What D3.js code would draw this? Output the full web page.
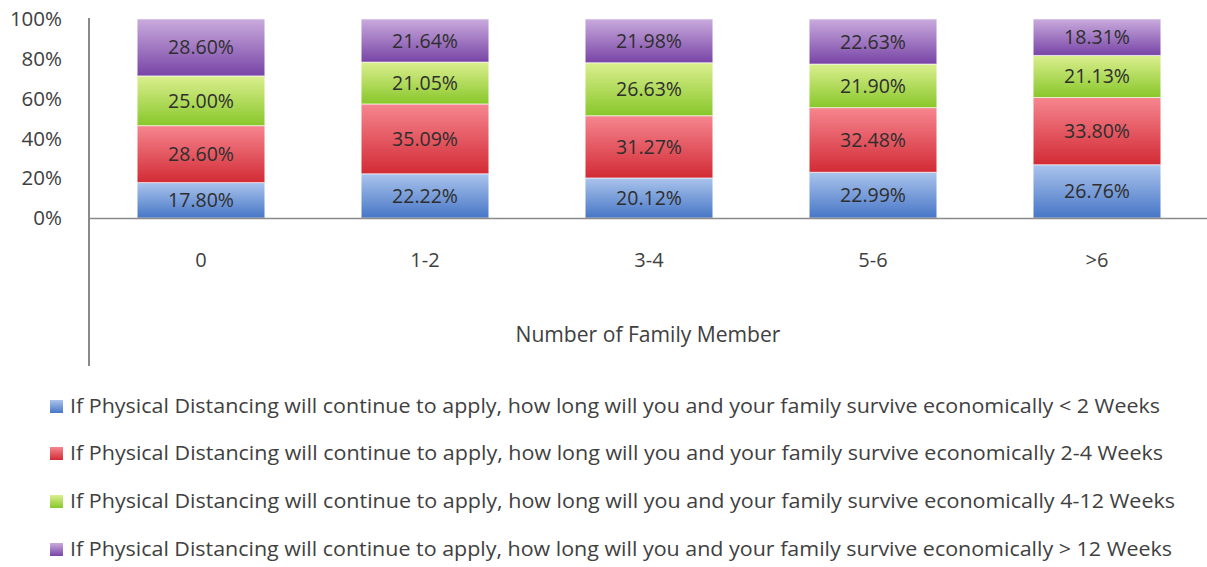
<!DOCTYPE html>
<html>
<head>
<meta charset="utf-8">
<script src="https://cdn.jsdelivr.net/npm/d3@7"></script>
<style>
  html, body { margin: 0; padding: 0; background: #fff; }
  #chart { width: 1207px; height: 567px; }
  text { font-family: "Open Sans", "DejaVu Sans", sans-serif; }
</style>
</head>
<body>
<div id="chart"></div>
<script>
const categories = ["0", "1-2", "3-4", "5-6", ">6"];
const seriesNames = [
  "If Physical Distancing will continue to apply, how long will you and your family survive economically < 2 Weeks",
  "If Physical Distancing will continue to apply, how long will you and your family survive economically 2-4 Weeks",
  "If Physical Distancing will continue to apply, how long will you and your family survive economically 4-12 Weeks",
  "If Physical Distancing will continue to apply, how long will you and your family survive economically > 12 Weeks"
];
const lessThan2Weeks = [17.80, 22.22, 20.12, 22.99, 26.76];
const twoTo4Weeks = [28.60, 35.09, 31.27, 32.48, 33.80];
const fourTo12Weeks = [25.00, 21.05, 26.63, 21.90, 21.13];
const moreThan12Weeks = [28.60, 21.64, 21.98, 22.63, 18.31];
const yTicks = [0, 20, 40, 60, 80, 100];
const xTitle = "Number of Family Member";

function renderChart(selector = "#chart") {
    const container = d3.select(selector);
    container.html("");

    const width = 1207;
    const height = 567;

    const svg = container.append("svg")
        .attr("width", width)
        .attr("height", height)
        .style("display", "block");

    const seriesValues = [lessThan2Weeks, twoTo4Weeks, fourTo12Weeks, moreThan12Weeks];
    const keys = ["s0", "s1", "s2", "s3"];
    const rows = categories.map((c, i) => {
        const r = { cat: c };
        keys.forEach((k, j) => { r[k] = seriesValues[j][i]; });
        return r;
    });

    // top / bottom gradient colours, per series
    const grads = [
        ["#aac4ec", "#4776c6"],
        ["#f6868f", "#d22b35"],
        ["#dbef8f", "#88c72a"],
        ["#c9abdd", "#7844a6"]
    ];

    const defs = svg.append("defs");
    grads.forEach((g, i) => {
        const lg = defs.append("linearGradient")
            .attr("id", "grad" + i)
            .attr("x1", 0).attr("y1", 0).attr("x2", 0).attr("y2", 1);
        lg.append("stop").attr("offset", "0%").attr("stop-color", g[0]);
        lg.append("stop").attr("offset", "100%").attr("stop-color", g[1]);
    });

    const x = d3.scaleBand()
        .domain(categories)
        .range([89, 1209])
        .paddingInner(0.43)
        .paddingOuter(0.215);

    const y = d3.scaleLinear()
        .domain([0, 100])
        .range([218, 19]);

    const stack = d3.stack().keys(keys)(rows);

    // y tick labels (no tick marks)
    svg.append("g")
        .selectAll("text")
        .data(yTicks)
        .join("text")
        .attr("x", 62)
        .attr("y", d => y(d))
        .attr("dy", "0.35em")
        .attr("text-anchor", "end")
        .attr("font-size", 20.5)
        .attr("fill", "#404040")
        .text(d => d + "%");

    // bars
    const layer = svg.append("g")
        .selectAll("g")
        .data(stack)
        .join("g")
        .attr("fill", (d, i) => `url(#grad${i})`);

    layer.selectAll("rect")
        .data(d => d)
        .join("rect")
        .attr("x", d => x(d.data.cat))
        .attr("y", d => y(d[1]))
        .attr("width", x.bandwidth())
        .attr("height", d => y(d[0]) - y(d[1]))
        .attr("stroke", "#ffffff")
        .attr("stroke-opacity", 0.6)
        .attr("stroke-width", 1);

    // data labels
    const labels = svg.append("g");
    stack.forEach(s => {
        labels.selectAll(null)
            .data(s)
            .join("text")
            .attr("x", d => x(d.data.cat) + x.bandwidth() / 2)
            .attr("y", d => (y(d[0]) + y(d[1])) / 2)
            .attr("dy", "0.36em")
            .attr("text-anchor", "middle")
            .attr("font-size", 19.5)
            .attr("fill", "#2e2e2e")
            .text(d => (d[1] - d[0]).toFixed(2) + "%");
    });

    // axes lines
    svg.append("line")
        .attr("x1", 89).attr("x2", 89)
        .attr("y1", 18).attr("y2", 366)
        .attr("stroke", "#8a8a8a")
        .attr("stroke-width", 2);

    svg.append("line")
        .attr("x1", 88).attr("x2", width)
        .attr("y1", y(0) + 0.5).attr("y2", y(0) + 0.5)
        .attr("stroke", "#8a8a8a")
        .attr("stroke-width", 1.5);

    // x labels
    svg.append("g")
        .selectAll("text")
        .data(categories)
        .join("text")
        .attr("x", d => x(d) + x.bandwidth() / 2)
        .attr("y", 260)
        .attr("dy", "0.35em")
        .attr("text-anchor", "middle")
        .attr("font-size", 20)
        .attr("fill", "#404040")
        .text(d => d);

    svg.append("text")
        .attr("x", 648)
        .attr("y", 335)
        .attr("dy", "0.35em")
        .attr("text-anchor", "middle")
        .attr("font-size", 21)
        .attr("fill", "#404040")
        .attr("textLength", 265)
        .attr("lengthAdjust", "spacingAndGlyphs")
        .text(xTitle);

    // legend
    const legendY = [406, 453, 501, 549];
    const legendW = [1090, 1093, 1105, 1102];
    const legend = svg.append("g")
        .selectAll("g")
        .data(seriesNames)
        .join("g")
        .attr("transform", (d, i) => `translate(50,${legendY[i]})`);

    legend.append("rect")
        .attr("x", 0).attr("y", -6)
        .attr("width", 13).attr("height", 13)
        .attr("fill", (d, i) => `url(#grad${i})`);

    legend.append("text")
        .attr("x", 20)
        .attr("dy", "0.35em")
        .attr("font-size", 19.5)
        .attr("fill", "#404040")
        .attr("textLength", (d, i) => legendW[i])
        .attr("lengthAdjust", "spacingAndGlyphs")
        .text(d => d);
}

renderChart();
</script>
</body>
</html>
